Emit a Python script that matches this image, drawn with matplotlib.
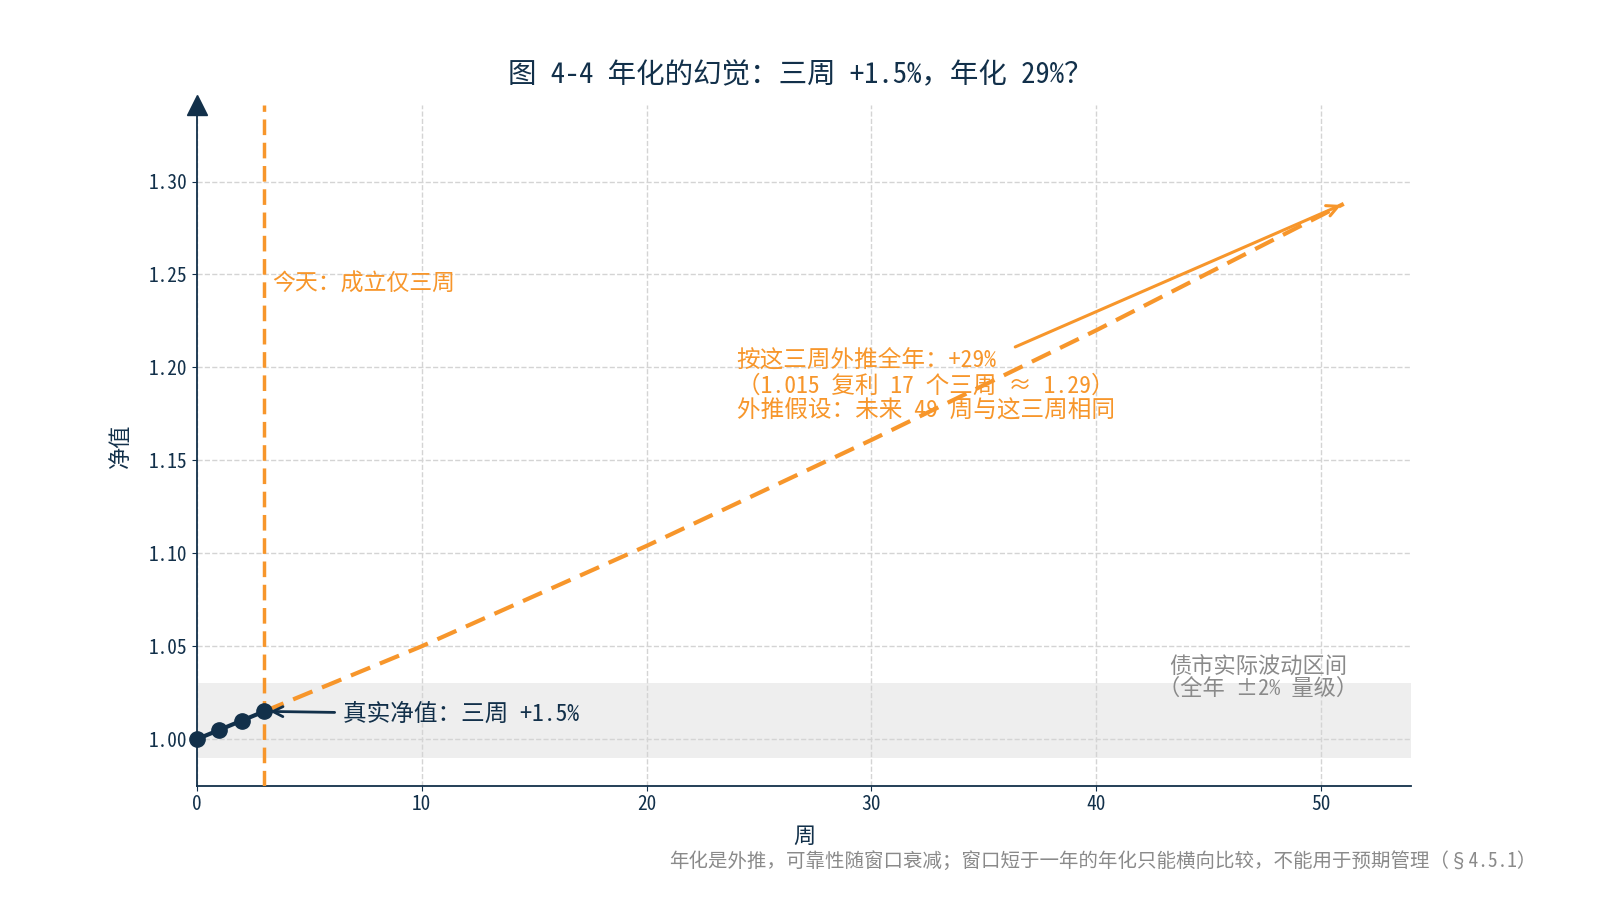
import matplotlib.pyplot as plt
import numpy as np

plt.rcParams['font.family'] = ['Noto Sans Mono CJK SC', 'Noto Sans CJK SC', 'DejaVu Sans']
plt.rcParams["axes.unicode_minus"] = False

NAVY = '#12304a'
ORANGE = '#f7962b'
GREY = '#8a8a8a'

# 真实净值（前三周）
weeks = [0, 1, 2, 3]
nav = [1.000, 1.005, 1.010, 1.015]

# 外推路径
proj_weeks = [3, 10, 20, 30, 40, 51]
proj_nav = [1.015, 1.050, 1.104, 1.161, 1.220, 1.288]

band_low, band_high = 0.99, 1.03
today = 3

x_ticks = [0, 10, 20, 30, 40, 50]
y_ticks = [1.00, 1.05, 1.10, 1.15, 1.20, 1.25, 1.30]

fig = plt.figure(figsize=(16, 9), dpi=100)
ax = fig.add_axes([0.123, 0.127, 0.759, 0.756])

ax.axhspan(band_low, band_high, color='#eeeeee', zorder=0, lw=0)
ax.grid(True, linestyle='--', color='#d4d4d4', lw=1.0, zorder=1)

ax.plot(proj_weeks, proj_nav, color=ORANGE, lw=3, ls=(0, (5, 2.5)), zorder=3)
ax.plot(weeks, nav, color=NAVY, lw=3, marker='o', ms=11, zorder=5, clip_on=False)
ax.axvline(today, color=ORANGE, lw=2.5, ls=(0, (4.5, 2.2)), zorder=4)

ax.text(today + 0.35, 1.245, '今天：成立仅三周', color=ORANGE, fontsize=16.5,
        ha='left', va='center')

ax.annotate('真实净值：三周 +1.5%', xy=(weeks[-1], nav[-1]), xytext=(6.5, 1.0134),
            color=NAVY, fontsize=17, ha='left', va='center',
            arrowprops=dict(arrowstyle='->', color=NAVY, lw=2, shrinkA=4, shrinkB=4,
                            mutation_scale=18))

ax.annotate('按这三周外推全年：+29%\n（1.015 复利 17 个三周 ≈ 1.29）\n外推假设：未来 49 周与这三周相同',
            xy=(proj_weeks[-1], proj_nav[-1]), xytext=(24.0, 1.19),
            color=ORANGE, fontsize=17, ha='left', va='center', linespacing=1.1,
            arrowprops=dict(arrowstyle='->', color=ORANGE, lw=2.2, shrinkA=0, shrinkB=2,
                            mutation_scale=20))

ax.text(47.2, 1.033, '债市实际波动区间\n（全年 ±2% 量级）', color=GREY, fontsize=16,
        ha='center', va='center', linespacing=1.0)

ax.set_xlim(0, 54)
ax.set_ylim(0.975, 1.341)
ax.set_xticks(x_ticks)
ax.set_yticks(y_ticks)
ax.set_yticklabels(['%.2f' % v for v in y_ticks])
ax.tick_params(colors=NAVY, labelsize=14)

for s in ['top', 'right']:
    ax.spines[s].set_visible(False)
for s in ['left', 'bottom']:
    ax.spines[s].set_color(NAVY)
    ax.spines[s].set_linewidth(1.3)
ax.plot(0, 1, marker='^', color=NAVY, ms=14, transform=ax.transAxes, clip_on=False, zorder=6)

ax.set_xlabel('周', fontsize=16, color=NAVY, labelpad=8)
ax.set_ylabel('净值', fontsize=16, color=NAVY, labelpad=12)

fig.suptitle('图 4-4 年化的幻觉：三周 +1.5%，年化 29%？', fontsize=20.5, color=NAVY,
             x=0.5, y=0.932)
fig.text(0.96, 0.043, '年化是外推，可靠性随窗口衰减；窗口短于一年的年化只能横向比较，不能用于预期管理（§4.5.1）',
         color=GREY, fontsize=14, ha='right', va='center')

fig.savefig('out.png', dpi=100)
